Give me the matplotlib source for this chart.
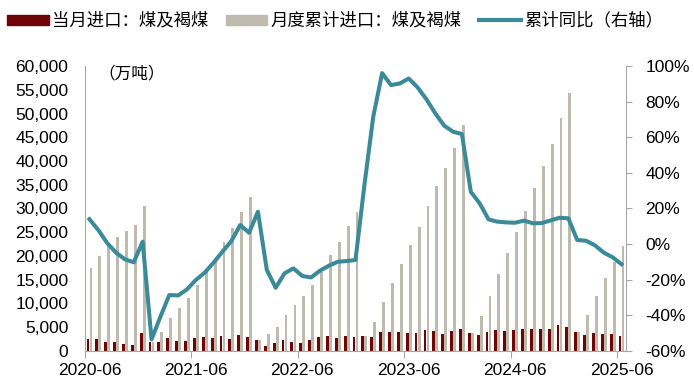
import numpy as np
import pandas as pd
import matplotlib
matplotlib.use("Agg")
from matplotlib import pyplot as plt
from matplotlib.lines import Line2D
from matplotlib.patches import Patch

plt.rcParams['font.family'] = ['Liberation Sans', 'Noto Sans CJK SC', 'DejaVu Sans']

months = pd.date_range("2020-06", "2025-06", freq="MS").strftime("%Y-%m").tolist()

# 当月进口：煤及褐煤 (万吨)
monthly = [2460, 2530, 1970, 1830, 1400, 1190, 3860,
           1970, 1970, 2670, 2100, 2100, 2810, 2950, 2740, 3160, 2600, 3440, 3020,
           2320, 1050, 1620, 2320, 1970, 1760, 2320, 2880, 3160, 2810, 3160, 3020,
           3160, 2880, 4000, 4000, 3930, 3860, 3860, 4420, 4140, 3580, 4280, 4560,
           3860, 3300, 4000, 4420, 4280, 4420, 4560, 4560, 4700, 4560, 5400, 5120,
           4070, 3370, 3720, 3580, 3510, 3160]

# 月度累计进口：煤及褐煤 (万吨)
cumulative = [17410, 20010, 22200, 24000, 25340, 26540, 30470,
              1970, 4070, 6880, 8990, 11120, 13900, 16710, 19500, 23030, 25830, 29340, 32360,
              2400, 3580, 5130, 7580, 9690, 11580, 13900, 16710, 20220, 23030, 26330, 29340,
              3160, 6040, 10250, 14250, 18320, 22250, 26190, 30610, 34820, 38470, 42820, 47530,
              3860, 7440, 11650, 16150, 20570, 24990, 29550, 34260, 38960, 43590, 49140, 54400,
              4070, 7580, 11580, 15300, 18810, 22180]

# 累计同比 (%)
yoy = [14.0, 7.9, 0.6, -4.8, -8.5, -10.2, 1.4,
       -53.5, -40.8, -28.6, -28.8, -25.4, -20.1, -16.0, -10.4, -4.2, 1.7, 10.7, 6.4,
       18.2, -14.5, -24.5, -16.4, -13.6, -17.9, -18.7, -14.9, -12.1, -9.9, -9.5, -8.9,
       33.0, 71.5, 96.0, 89.3, 90.2, 93.0, 88.0, 81.3, 73.4, 66.5, 63.1, 61.8,
       29.4, 22.9, 13.9, 12.6, 12.2, 12.0, 13.2, 11.7, 11.8, 13.3, 14.8, 14.5,
       2.3, 1.9, -0.7, -4.8, -7.4, -11.3]

red = '#6E0505'
grey = '#BEBBAE'
teal = '#3A8A9A'
axis_grey = '#A6A6A6'

fig = plt.figure(figsize=(6.94, 3.86), dpi=100)
ax = fig.add_axes([0.1225, 0.0907, 0.7795, 0.7383])

x = np.arange(len(months))
ax.bar(x - 0.17, monthly, width=0.32, color=red, zorder=2)
ax.bar(x + 0.17, cumulative, width=0.32, color=grey, zorder=2)
ax.set_xlim(-0.5, len(months) - 0.5)
ax.set_ylim(0, 60000)
ax.set_yticks(np.arange(0, 60001, 5000))
ax.set_yticklabels([f"{v:,}" for v in range(0, 60001, 5000)])
ax.tick_params(axis='y', length=0, pad=12, labelsize=12.5)

ax.set_xticks(np.arange(-0.5, len(months), 12))
ax.set_xticklabels([])
ax.set_xticks(x[::12], labels=months[::12], minor=True)
ax.tick_params(axis='x', which='major', length=5, color=axis_grey)
ax.tick_params(axis='x', which='minor', length=0, pad=9, labelsize=12.5)

for s in ['top', 'right']:
    ax.spines[s].set_visible(False)
for s in ['left', 'bottom']:
    ax.spines[s].set_color(axis_grey)

ax.text(0.087, 0.972, "（万吨）", transform=ax.transAxes, ha='center', va='center',
        fontsize=12, family=['Noto Sans CJK SC'])

ax2 = ax.twinx()
ax2.plot(x, np.array(yoy) / 100, color=teal, lw=2.9, zorder=3)
ax2.set_ylim(-0.6, 1.0)
ticks = np.arange(-0.6, 1.01, 0.2)
ax2.set_yticks(ticks)
ax2.set_yticklabels([f"{round(t * 100):d}%" for t in ticks])
ax2.tick_params(axis='y', length=4, color=axis_grey, pad=10, labelsize=12.5)
for s in ['top', 'left', 'bottom']:
    ax2.spines[s].set_visible(False)
ax2.spines['right'].set_color(axis_grey)

handles = [Patch(color=red), Patch(color=grey), Line2D([], [], color=teal, lw=3)]
labels = ["当月进口：煤及褐煤", "月度累计进口：煤及褐煤", "累计同比（右轴）"]
fig.legend(handles, labels, loc='upper center', bbox_to_anchor=(0.483, 1.01), ncol=3,
           frameon=False, handlelength=2.4, handleheight=0.5, handletextpad=0.2,
           columnspacing=1.0, prop={'family': ['Noto Sans CJK SC'], 'size': 12.5})

fig.savefig("out.png", dpi=100)
